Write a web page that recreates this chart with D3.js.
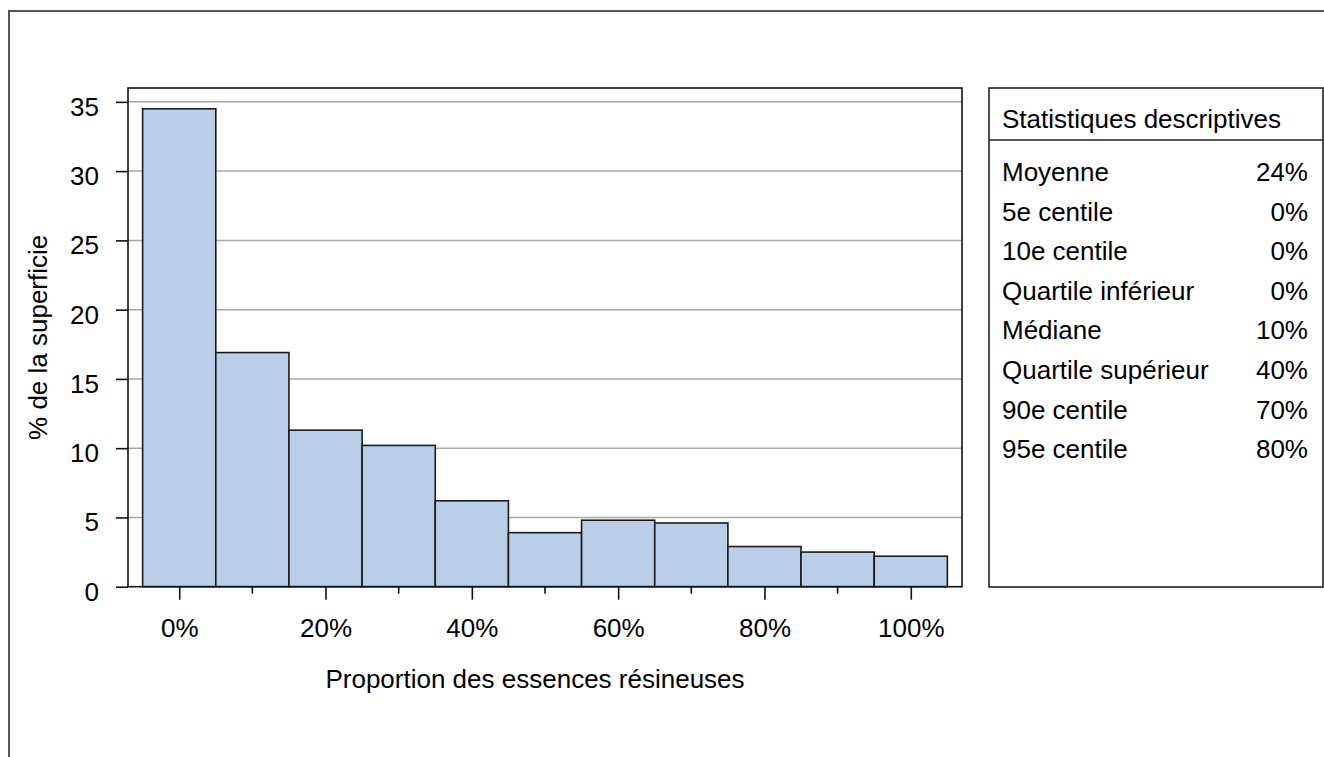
<!DOCTYPE html>
<html>
<head>
<meta charset="utf-8">
<script src="https://cdn.jsdelivr.net/npm/d3@7"></script>
<style>
    body { margin: 0; background: #fff; }
    svg { display: block; font-family: "Liberation Sans", Arial, sans-serif; }
</style>
</head>
<body>
<div id="chart"></div>
<script>
// histogram bins (centre of each 10% class) and share of area
const binCenters = [0, 10, 20, 30, 40, 50, 60, 70, 80, 90, 100];
const pctArea = [34.5, 16.9, 11.3, 10.2, 6.2, 3.9, 4.8, 4.6, 2.9, 2.5, 2.2];
const yTicks = [0, 5, 10, 15, 20, 25, 30, 35];
const xMajorTicks = [0, 20, 40, 60, 80, 100];
const xMinorTicks = [10, 30, 50, 70, 90];

const statTitle = 'Statistiques descriptives';
const statLabels = ['Moyenne', '5e centile', '10e centile', 'Quartile inférieur',
    'Médiane', 'Quartile supérieur', '90e centile', '95e centile'];
const statValues = ['24%', '0%', '0%', '0%', '10%', '40%', '70%', '80%'];

(function() {
    const W = 1324, H = 757;
    const fontSize = 26;
    const plot = {left: 128, right: 962, top: 88, bottom: 586.7};
    const box = {left: 989, right: 1323, top: 88, bottom: 587};

    const svg = d3.select('#chart').append('svg')
        .attr('width', W)
        .attr('height', H)
        .style('font-size', fontSize + 'px');

    // outer frame, runs off the right and bottom edge
    svg.append('rect')
        .attr('x', 9).attr('y', 11)
        .attr('width', W + 40).attr('height', H + 40)
        .attr('fill', 'none')
        .attr('stroke', '#555')
        .attr('stroke-width', 2);

    const x = d3.scaleLinear().domain([-7, 107]).range([plot.left, plot.right]);
    const y = d3.scaleLinear().domain([0, 36]).range([plot.bottom, plot.top]);

    // gridlines
    svg.append('g')
        .selectAll('line')
        .data(yTicks.filter(d => d > 0))
        .enter().append('line')
        .attr('x1', plot.left).attr('x2', plot.right)
        .attr('y1', d => y(d)).attr('y2', d => y(d))
        .attr('stroke', '#a8a8a8')
        .attr('stroke-width', 1.5);

    // bars
    svg.append('g')
        .selectAll('rect')
        .data(binCenters.map((c, i) => ({c: c, v: pctArea[i]})))
        .enter().append('rect')
        .attr('x', d => x(d.c - 5))
        .attr('width', d => x(d.c + 5) - x(d.c - 5))
        .attr('y', d => y(d.v))
        .attr('height', d => y(0) - y(d.v))
        .attr('fill', '#bacfe7')
        .attr('stroke', '#1a1a1a')
        .attr('stroke-width', 1.6);

    // plot frame
    svg.append('rect')
        .attr('x', plot.left).attr('y', plot.top)
        .attr('width', plot.right - plot.left)
        .attr('height', plot.bottom - plot.top)
        .attr('fill', 'none')
        .attr('stroke', '#111')
        .attr('stroke-width', 1.6);

    // y axis
    const yAxis = svg.append('g')
        .attr('transform', `translate(${plot.left},0)`)
        .call(d3.axisLeft(y).tickValues(yTicks).tickSize(12).tickPadding(17));
    yAxis.select('.domain').remove();
    yAxis.selectAll('.tick line').attr('stroke', '#111').attr('stroke-width', 1.6);
    yAxis.selectAll('.tick text')
        .attr('dy', '0.52em')
        .attr('fill', '#000')
        .style('font-size', fontSize + 'px')
        .style('font-family', '"Liberation Sans", Arial, sans-serif');

    // x axis, major ticks with labels
    const xAxis = svg.append('g')
        .attr('transform', `translate(0,${plot.bottom})`)
        .call(d3.axisBottom(x).tickValues(xMajorTicks).tickSize(13).tickPadding(19)
            .tickFormat(d => d + '%'));
    xAxis.select('.domain').remove();
    xAxis.selectAll('.tick line').attr('stroke', '#111').attr('stroke-width', 1.6);
    xAxis.selectAll('.tick text')
        .attr('fill', '#000')
        .style('font-size', fontSize + 'px')
        .style('font-family', '"Liberation Sans", Arial, sans-serif');

    // minor ticks
    svg.append('g')
        .selectAll('line')
        .data(xMinorTicks)
        .enter().append('line')
        .attr('x1', d => x(d)).attr('x2', d => x(d))
        .attr('y1', plot.bottom).attr('y2', plot.bottom + 7)
        .attr('stroke', '#111')
        .attr('stroke-width', 1.6);

    // axis titles
    svg.append('text')
        .attr('x', 535).attr('y', 688)
        .attr('text-anchor', 'middle')
        .text('Proportion des essences résineuses');

    svg.append('text')
        .attr('transform', `translate(47,${(plot.top + plot.bottom) / 2}) rotate(-90)`)
        .attr('text-anchor', 'middle')
        .text('% de la superficie');

    // statistics box
    const g = svg.append('g');
    g.append('rect')
        .attr('x', box.left).attr('y', box.top)
        .attr('width', box.right - box.left)
        .attr('height', box.bottom - box.top)
        .attr('fill', 'none')
        .attr('stroke', '#222')
        .attr('stroke-width', 1.6);
    g.append('line')
        .attr('x1', box.left).attr('x2', box.right)
        .attr('y1', 140).attr('y2', 140)
        .attr('stroke', '#222')
        .attr('stroke-width', 1.6);
    g.append('text')
        .attr('x', 1002).attr('y', 128)
        .text(statTitle);

    const rowY = i => 181 + i * 39.6;
    g.selectAll('.stat-label')
        .data(statLabels)
        .enter().append('text')
        .attr('class', 'stat-label')
        .attr('x', 1002)
        .attr('y', (d, i) => rowY(i))
        .text(d => d);
    g.selectAll('.stat-value')
        .data(statValues)
        .enter().append('text')
        .attr('class', 'stat-value')
        .attr('x', 1308)
        .attr('y', (d, i) => rowY(i))
        .attr('text-anchor', 'end')
        .text(d => d);
})();
</script>
</body>
</html>
